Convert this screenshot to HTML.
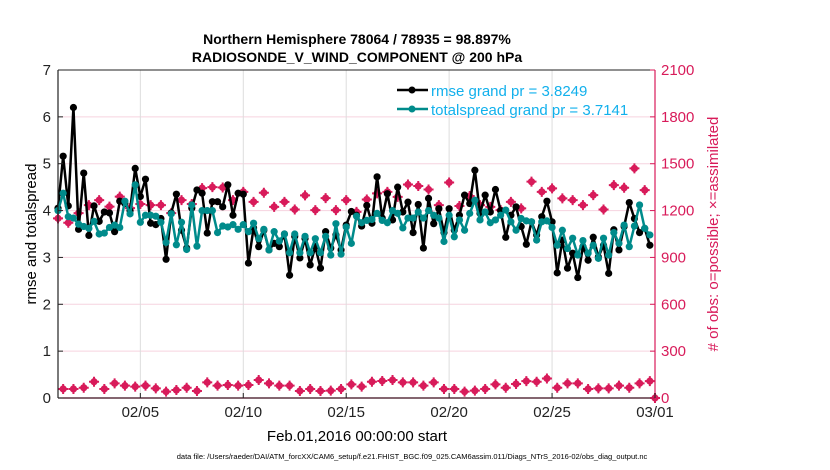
<!DOCTYPE html>
<html><head><meta charset="utf-8"><style>
html,body{margin:0;padding:0;background:#fff;}
svg{display:block;font-family:"Liberation Sans",sans-serif;}
</style></head><body>
<svg id="chart" width="830" height="470" viewBox="0 0 830 470" xmlns="http://www.w3.org/2000/svg">
<g id="grid"></g>
<g id="series"></g>
<g id="axes"></g>
<text x="357" y="44" text-anchor="middle" font-size="14" font-weight="bold">Northern Hemisphere 78064 / 78935 = 98.897%</text>
<text x="357" y="62" text-anchor="middle" font-size="14" font-weight="bold">RADIOSONDE_V_WIND_COMPONENT @ 200 hPa</text>
<text transform="translate(36,234) rotate(-90)" text-anchor="middle" font-size="15">rmse and totalspread</text>
<text transform="translate(718,234) rotate(-90)" text-anchor="middle" font-size="15" fill="#d81b5a"># of obs: o=possible; ×=assimilated</text>
<text x="357" y="441" text-anchor="middle" font-size="15">Feb.01,2016 00:00:00 start</text>
<text x="412" y="459" text-anchor="middle" font-size="7.5">data file: /Users/raeder/DAI/ATM_forcXX/CAM6_setup/f.e21.FHIST_BGC.f09_025.CAM6assim.011/Diags_NTrS_2016-02/obs_diag_output.nc</text>
<g>
<g>
<line x1="397" y1="90" x2="428" y2="90" stroke="#000" stroke-width="2.5"/><circle cx="412" cy="90" r="3.5" fill="#000"/>
<text x="431" y="96" font-size="15" fill="#12b0ec">rmse grand pr = 3.8249</text></g>
<g>
<line x1="397" y1="109" x2="428" y2="109" stroke="#008b8b" stroke-width="2.5"/><circle cx="412" cy="109" r="3.5" fill="#008b8b"/>
<text x="431" y="115" font-size="15" fill="#12b0ec">totalspread grand pr = 3.7141</text></g>
</g>
</svg>
<script>
const rmse=[4.05,5.16,4.1,6.2,3.6,4.8,3.47,4.1,3.77,3.97,3.95,3.55,4.2,4.15,4.0,4.9,4.3,4.67,3.73,3.7,3.83,2.96,3.95,4.35,3.58,3.2,4.05,4.44,4.37,3.52,
4.19,4.19,4.08,4.55,3.9,4.37,4.35,2.88,3.63,3.23,3.58,3.16,3.3,3.23,3.5,2.62,3.45,2.99,3.4,2.84,3.23,2.77,3.55,3.2,3.48,3.16,3.69,3.98,3.9,
3.67,4.11,3.73,4.72,3.84,4.36,3.8,4.5,3.97,4.18,3.53,4.13,3.2,4.26,3.72,4.04,3.53,4.04,3.58,3.9,4.33,4.15,4.86,3.94,4.33,3.97,4.45,4.0,
3.43,3.9,4.08,3.66,3.28,3.76,3.48,3.87,4.2,3.76,2.67,3.37,2.77,3.09,2.57,3.23,2.94,3.43,3.01,3.26,2.66,3.59,3.16,3.66,4.17,3.83,3.53,3.62,3.26];
const spread=[4.0,4.37,3.87,3.84,3.71,3.66,3.62,3.77,3.5,3.52,3.64,3.69,3.64,4.2,3.93,4.55,3.75,3.9,3.9,3.88,3.75,3.32,3.93,3.27,3.75,3.17,4.12,3.24,4.0,4.0,
4.0,3.53,3.67,3.65,3.7,3.6,3.7,3.55,3.73,3.4,3.6,3.16,3.55,3.35,3.5,3.1,3.5,3.1,3.45,3.1,3.4,3.1,3.45,3.05,3.72,3.07,3.65,3.3,3.88,
3.74,3.79,3.81,3.94,3.79,3.74,4.0,3.94,3.63,3.84,3.84,3.97,3.84,4.0,3.9,3.84,3.34,3.9,3.44,3.8,3.58,3.94,4.22,3.8,3.97,3.74,3.8,3.9,
4.01,3.76,3.58,3.83,3.78,3.76,3.37,3.76,3.78,3.64,3.26,3.58,3.19,3.41,3.05,3.36,3.09,3.26,2.98,3.41,3.05,3.53,3.3,3.69,3.23,3.67,4.12,3.62,3.48];
// obs counts at 00Z/12Z (even steps) and 06Z/18Z (odd steps)
const obsMain=[1150,1122,1184,1235,1267,1225,1289,1216,1242,1235,1235,1184,1267,1242,1344,1350,1348,1267,1320,1256,1314,1224,1256,1207,1297,1203,1280,1203,1267,1192,1271,1310,1320,1288,1367,1357,1335,1235,1380,1229,1293,1235,1224,1203,1256,1214,1385,1320,1342,1278,1267,1235,1299,1207,1363,1346,1470,1331,0];
const obsOff=[58,58,66,104,58,94,79,73,79,62,41,51,66,45,100,79,83,79,83,115,94,79,79,45,58,45,47,58,87,
73,104,109,115,100,100,79,100,58,58,41,47,58,87,66,90,108,104,125,66,94,94,58,62,62,79,66,94,108];
const xTickLabels=["02/05","02/10","02/15","02/20","02/25","03/01"];
const xTickDays=[4,9,14,19,24,29];
const yTicks=[0,1,2,3,4,5,6,7];
const rTicks=[0,300,600,900,1200,1500,1800,2100];

const X0=58,X1=655,Y0=398,Y1=70,NDAYS=29;
const xs=d=>X0+d/NDAYS*(X1-X0);
const ys=v=>Y0-v/7*(Y0-Y1);
const yr=v=>Y0-v/2100*(Y0-Y1);
const NS="http://www.w3.org/2000/svg";
function mk(tag,parent,attrs){const e=document.createElementNS(NS,tag);for(const k in attrs)e.setAttribute(k,attrs[k]);parent.appendChild(e);return e;}
const grid=document.getElementById('grid'),ser=document.getElementById('series'),ax=document.getElementById('axes');
const PINK="#d81b5a";
rTicks.forEach(v=>{const l=mk('line',grid,{x1:X0,x2:X1,y1:yr(v),y2:yr(v),stroke:'#f6d3df','stroke-width':1});

});
xTickDays.forEach(d=>{const l=mk('line',grid,{x1:xs(d),x2:xs(d),y1:Y1,y2:Y0,stroke:'#dddddd','stroke-width':1});

});
// obs markers
function obsMarker(cx,cy){const g=mk('g',ser,{});


mk('circle',g,{cx:cx,cy:cy,r:3.6,fill:PINK});
mk('path',g,{d:`M${cx-5} ${cy}H${cx+5}M${cx} ${cy-5}V${cy+5}`,stroke:PINK,'stroke-width':2});}
obsMain.forEach((v,i)=>obsMarker(xs(i*0.5),yr(v)));
obsOff.forEach((v,i)=>obsMarker(xs(i*0.5+0.25),yr(v)));
function line(data,color,name){const pts=data.map((v,i)=>[xs(i*0.25),ys(v)]);
const p=mk('polyline',ser,{points:pts.map(p=>p.join(',')).join(' '),fill:'none',stroke:color,'stroke-width':2.5,'stroke-linejoin':'round'});


pts.forEach(q=>{const c=mk('circle',ser,{cx:q[0],cy:q[1],r:3.6,fill:color});

});}
line(rmse,'#000','rmse');
line(spread,'#008b8b','totalspread');
// axes
mk('line',ax,{x1:X0,x2:X1,y1:Y1,y2:Y1,stroke:'#222','stroke-width':1});
mk('line',ax,{x1:X0,x2:X1,y1:Y0,y2:Y0,stroke:'#3a0a1a','stroke-width':1.2});
mk('line',ax,{x1:X0,x2:X0,y1:Y1,y2:Y0,stroke:'#222','stroke-width':1.2});
mk('line',ax,{x1:X1,x2:X1,y1:Y1,y2:Y0,stroke:PINK,'stroke-width':1.2});
yTicks.forEach(v=>{mk('line',ax,{x1:X0,x2:X0+5,y1:ys(v),y2:ys(v),stroke:'#222'});
const t=mk('text',ax,{x:X0-7,y:ys(v)+5,'text-anchor':'end','font-size':15,fill:'#222'});t.textContent=v;

});
rTicks.forEach(v=>{mk('line',ax,{x1:X1-5,x2:X1,y1:yr(v),y2:yr(v),stroke:PINK});
const t=mk('text',ax,{x:X1+6,y:yr(v)+5,'font-size':15,fill:PINK});t.textContent=v;

});
xTickDays.forEach((d,i)=>{mk('line',ax,{x1:xs(d),x2:xs(d),y1:Y0,y2:Y0-5,stroke:'#222'});
const t=mk('text',ax,{x:xs(d),y:Y0+19,'text-anchor':'middle','font-size':15,fill:'#222'});t.textContent=xTickLabels[i];

});
</script>
</body></html>
